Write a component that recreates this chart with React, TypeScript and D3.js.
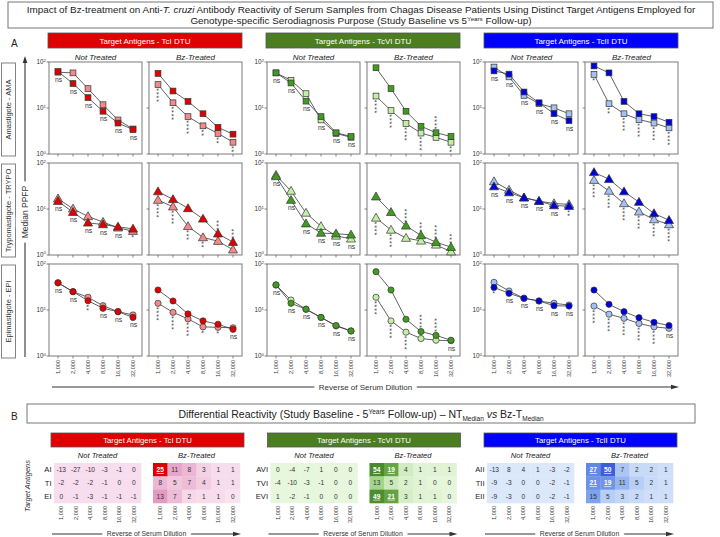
import React from "react";
import * as d3 from "d3";

const dilutions = ["1,000", "2,000", "4,000", "8,000", "16,000", "32,000"];
const dtuLabels = ["TcI DTU", "TcVI DTU", "TcII DTU"];
const stageLabels = ["Amastigote - AMA", "Trypomastigote - TRYPO", "Epimastigote - EPI"];
const treatmentLabels = ["Not Treated", "Bz-Treated"];
const stageShapes = ["square", "triangle", "circle"];

// ---- Panel A data: base = study baseline (dark), fu = 5-years follow-up (light), sig = test label
const tcI_AMA_NT = { base: [62, 34, 16.8, 8.5, 4.7, 3.4], fu: [60, 58, 26.4, 11.8, 5.5, 3.5], sig: ["ns", "ns", "ns", "ns", "ns", "ns"] };
const tcI_AMA_BZ = { base: [56.5, 23.4, 13.9, 7.5, 3.8, 2.7], fu: [32.3, 13, 6.5, 4.1, 2.8, 1.8], sig: ["****", "****", "****", "**", "**", "**"] };
const tcI_TRYPO_NT = { base: [14.8, 8.5, 5.0, 4.6, 4.1, 3.7], fu: [16.8, 10.1, 6.9, 5.2, 3.9, 3.3], sig: ["ns", "ns", "ns", "ns", "ns", "*"] };
const tcI_TRYPO_BZ = { base: [23.9, 16.2, 10.3, 6.1, 2.9, 1.9], fu: [15.6, 11.2, 4.2, 2.4, 2.0, 1.3], sig: ["****", "****", "***", "**", "***", "***"] };
const tcI_EPI_NT = { base: [39, 25, 15.9, 10.9, 9.2, 6.9], fu: [39, 25, 18.9, 12.4, 9.2, 7.8], sig: ["ns", "ns", "**", "ns", "ns", "ns"] };
const tcI_EPI_BZ = { base: [27.2, 15.7, 8.2, 5.8, 4.9, 3.8], fu: [14, 8.9, 6.4, 4.3, 4.2, 4.1], sig: ["****", "****", "****", "*", "*", "ns"] };

const tcVI_AMA_NT = { base: [58, 35, 14.1, 6.5, 2.9, 2.4], fu: [58, 40, 20.5, 5.5, 2.8, 2.3], sig: ["ns", "ns", "ns", "ns", "ns", "ns"] };
const tcVI_AMA_BZ = { base: [75, 26.4, 8.5, 4.0, 2.9, 2.4], fu: [18.2, 8.8, 4.6, 2.85, 2.3, 1.8], sig: ["****", "****", "****", "****", "****", "**"] };
const tcVI_TRYPO_NT = { base: [51, 15.6, 4.8, 3.0, 2.9, 2.75], fu: [54.5, 24.6, 8.2, 4.2, 2.6, 2.25], sig: ["ns", "ns", "ns", "ns", "ns", "ns"] };
const tcVI_TRYPO_BZ = { base: [18.5, 8.5, 4.3, 2.66, 1.9, 1.48], fu: [6.4, 3.5, 2.33, 2.03, 1.66, 1.18], sig: ["****", "****", "****", "***", "****", "***"] };
const tcVI_EPI_NT = { base: [35, 14, 10.4, 6.9, 4.6, 3.5], fu: [35, 16.5, 10.4, 6.9, 4.5, 3.5], sig: ["ns", "ns", "ns", "ns", "ns", "ns"] };
const tcVI_EPI_BZ = { base: [68, 27.2, 6.3, 3.4, 2.8, 2.2], fu: [18.9, 5.8, 3.3, 2.4, 2.2, 2.15], sig: ["****", "****", "****", "****", "****", "ns"] };

const tcII_AMA_NT = { base: [64, 54.5, 22.3, 13, 7.5, 5.3], fu: [77.6, 47.5, 18.8, 12.4, 10.1, 7.5], sig: ["ns", "ns", "ns", "ns", "ns", "ns"] };
const tcII_AMA_BZ = { base: [82, 58, 13.9, 7.5, 6.5, 4.9], fu: [53.7, 12.4, 7.5, 5.6, 4.7, 3.7], sig: ["*", "**", "****", "****", "****", "****"] };
const tcII_TRYPO_NT = { base: [30.7, 22.7, 17.6, 14.8, 11.9, 11.5], fu: [39.6, 25.9, 17.6, 14.8, 13.2, 12.6], sig: ["ns", "ns", "ns", "ns", "ns", "**"] };
const tcII_TRYPO_BZ = { base: [62.5, 44.5, 23.9, 14.1, 8.0, 5.7], fu: [42.3, 24.6, 13.2, 8.7, 5.9, 4.6], sig: ["****", "****", "****", "****", "****", "****"] };
const tcII_EPI_NT = { base: [31, 23, 18, 15.7, 12.4, 12.2], fu: [40, 25.9, 18, 15.7, 14, 12.8], sig: ["*", "ns", "ns", "ns", "ns", "ns"] };
const tcII_EPI_BZ = { base: [27.2, 13.3, 9.2, 6.8, 5.4, 4.6], fu: [12.2, 8.1, 6.6, 5.1, 4.3, 4.0], sig: ["****", "****", "****", "****", "****", "ns"] };

// ---- Panel B data (differential reactivity)
const hmRows_TcI = ["AI", "TI", "EI"];
const hm_TcI_NT = [[-13, -27, -10, -3, -1, 0], [-2, -2, -2, -1, 0, 0], [0, -1, -3, -1, -1, -1]];
const hm_TcI_BZ = [[25, 11, 8, 3, 1, 1], [8, 5, 7, 4, 1, 1], [13, 7, 2, 1, 1, 0]];
const hmRows_TcVI = ["AVI", "TVI", "EVI"];
const hm_TcVI_NT = [[0, -4, -7, 1, 0, 0], [-4, -10, -3, -1, 0, 0], [1, -2, -1, 0, 0, 0]];
const hm_TcVI_BZ = [[54, 19, 4, 1, 1, 1], [13, 5, 2, 1, 0, 0], [49, 21, 3, 1, 1, 0]];
const hmRows_TcII = ["AII", "TII", "EII"];
const hm_TcII_NT = [[-13, 8, 4, 1, -3, -2], [-9, -3, 0, 0, -2, -1], [-9, -3, 0, 0, -2, -1]];
const hm_TcII_BZ = [[27, 50, 7, 2, 2, 1], [21, 19, 11, 5, 2, 1], [15, 5, 3, 2, 1, 1]];

const panelGrid = [
  [[tcI_AMA_NT, tcI_AMA_BZ], [tcI_TRYPO_NT, tcI_TRYPO_BZ], [tcI_EPI_NT, tcI_EPI_BZ]],
  [[tcVI_AMA_NT, tcVI_AMA_BZ], [tcVI_TRYPO_NT, tcVI_TRYPO_BZ], [tcVI_EPI_NT, tcVI_EPI_BZ]],
  [[tcII_AMA_NT, tcII_AMA_BZ], [tcII_TRYPO_NT, tcII_TRYPO_BZ], [tcII_EPI_NT, tcII_EPI_BZ]],
];
const hmGrid = [
  { rows: hmRows_TcI, nt: hm_TcI_NT, bz: hm_TcI_BZ },
  { rows: hmRows_TcVI, nt: hm_TcVI_NT, bz: hm_TcVI_BZ },
  { rows: hmRows_TcII, nt: hm_TcII_NT, bz: hm_TcII_BZ },
];

// ---- styles
const FONT = "'Liberation Sans', Arial, Helvetica, sans-serif";
const dtuStyle = [
  { bar: "#e00000", dark: "#e00000", light: "#f38a8a", nt: "#f8ddef", lo: "#f9e3f0", hi: "#e39bc2", sLo: "#dd0000", sHi: "#dd0000", loMax: 13 },
  { bar: "#4b7e21", dark: "#3f9d1d", light: "#c4eea7", nt: "#e7f7dd", lo: "#e5f6da", hi: "#a3d58a", sLo: "#64a544", sHi: "#4a8a2e", loMax: 13 },
  { bar: "#0000ff", dark: "#0000d8", light: "#a4c1f2", nt: "#dbe8fb", lo: "#d5e3fb", hi: "#7ea3ee", sLo: "#6f95ea", sHi: "#3557d6", loMax: 15 },
];
const GX = [49, 267, 485];
const PW = 93;
const ROW_TOP = [62, 163, 264];
const PH = 92;
const HG = [54, 270.5, 487];
const HW = 87;
const HY = 463;
const HH = 40;

function Marker({ shape, x, y, fill }: any) {
  if (shape === "square")
    return <rect x={x - 2.9} y={y - 2.9} width={5.8} height={5.8} fill={fill} stroke="#333" strokeWidth={0.7} />;
  if (shape === "triangle")
    return <path d={d3.symbol(d3.symbolTriangle, 36)() as string} transform={`translate(${x},${y + 0.6})`} fill={fill} stroke="#333" strokeWidth={0.7} />;
  return <circle cx={x} cy={y} r={3.1} fill={fill} stroke="#333" strokeWidth={0.7} />;
}

function Panel({ data, shape, st, x0, row, isNT }: any) {
  const top = ROW_TOP[row];
  const bottom = top + PH;
  const xs = d3.scalePoint<string>().domain(dilutions).range([x0 + 9, x0 + PW - 9]);
  const ys = d3.scaleLog().domain([1, 100]).range([bottom, top]);
  const line = d3.line<number>().x((_, i) => xs(dilutions[i]) as number).y((v) => ys(v));
  const ticks = [1, 10, 100];
  const ann = data.sig.map((s: string, i: number) => {
    const x = xs(dilutions[i]) as number;
    const a = ys(data.base[i]);
    const b = ys(data.fu[i]);
    const lo = Math.max(a, b);
    const hi = Math.min(a, b);
    if (s === "ns") {
      let y = lo + 10;
      if (y > bottom - 1) y = hi - 4;
      return <text key={"a" + i} x={x + 0.5} y={y} fontSize={6.8} textAnchor="middle" fill="#333">ns</text>;
    }
    const n = s.length;
    const step = 3.6;
    let first = lo + 5;
    let last = first + (n - 1) * step;
    if (last + 3 > bottom) {
      last = hi - 5;
      first = last - (n - 1) * step;
    }
    // vertical column of asterisks drawn as one rotated text
    return (
      <text key={"a" + i} transform={`translate(${x - 4},${first - 1.3}) rotate(90)`} fontSize={7} letterSpacing={0.9} fill="#333">
        {s}
      </text>
    );
  });
  return (
    <g>
      <rect x={x0} y={top} width={PW} height={PH} fill="white" stroke="#7a7a7a" strokeWidth={1} />
      {ticks.map((t) => (
        <line key={t} x1={x0 - 2.5} x2={x0} y1={ys(t)} y2={ys(t)} stroke="#555" strokeWidth={0.7} />
      ))}
      {isNT &&
        ticks.map((t, i) => (
          <text key={"l" + t} x={x0 - 3} y={ys(t) + 2.3} fontSize={6.3} textAnchor="end" fill="#333">
            10<tspan dy={-2.8} fontSize={4.3}>{i}</tspan>
          </text>
        ))}
      {dilutions.map((d) => (
        <g key={d}>
          <line x1={xs(d)} x2={xs(d)} y1={bottom} y2={bottom + 2.5} stroke="#555" strokeWidth={0.7} />
          {row === 2 && (
            <text transform={`translate(${(xs(d) as number) + 2},${bottom + 4}) rotate(-90)`} fontSize={5.6} textAnchor="end" fill="#333">
              {d}
            </text>
          )}
        </g>
      ))}
      <path d={line(data.fu) as string} fill="none" stroke="#3a3a3a" strokeWidth={0.8} />
      <path d={line(data.base) as string} fill="none" stroke="#3a3a3a" strokeWidth={0.8} />
      {data.fu.map((v: number, i: number) => (
        <Marker key={"f" + i} shape={shape} x={xs(dilutions[i])} y={ys(v)} fill={st.light} />
      ))}
      {data.base.map((v: number, i: number) => (
        <Marker key={"b" + i} shape={shape} x={xs(dilutions[i])} y={ys(v)} fill={st.dark} />
      ))}
      {ann}
    </g>
  );
}

function Heat({ values, x0, st, isNT }: any) {
  const xb = d3.scaleBand<string>().domain(dilutions).range([x0, x0 + HW]);
  const yb = d3.scaleBand<number>().domain([0, 1, 2]).range([HY, HY + HH]);
  const fillOf = (v: number) => {
    if (isNT) return st.nt;
    if (v >= 19) return d3.interpolateRgb(st.sLo, st.sHi)(Math.min(1, (v - 19) / 35));
    return d3.interpolateRgb(st.lo, st.hi)(Math.max(0, Math.min(1, v / st.loMax)));
  };
  return (
    <g>
      {values.map((row: number[], r: number) =>
        row.map((v, c) => {
          const x = xb(dilutions[c]) as number;
          const y = yb(r) as number;
          const sig = !isNT && v >= 19;
          return (
            <g key={r + "-" + c}>
              <rect x={x} y={y} width={xb.bandwidth() + 0.3} height={yb.bandwidth() + 0.3} fill={fillOf(v)} />
              <text x={x + xb.bandwidth() / 2} y={y + yb.bandwidth() / 2 + 2.4} fontSize={6.6} textAnchor="middle" fill={sig ? "#ffffff" : "#333"} textDecoration={sig ? "underline" : undefined} fontWeight={sig ? "bold" : undefined}>
                {v}
              </text>
            </g>
          );
        })
      )}
      {dilutions.map((d) => (
        <text key={d} transform={`translate(${(xb(d) as number) + xb.bandwidth() / 2 + 2},${HY + HH + 3}) rotate(-90)`} fontSize={5.6} textAnchor="end" fill="#333">
          {d}
        </text>
      ))}
    </g>
  );
}

function Arrow({ x1, x2, y, label, fs, w }: any) {
  return (
    <g>
      <line x1={x1} x2={x2 - 5} y1={y} y2={y} stroke="#333" strokeWidth={w} />
      <path d={`M${x2},${y} L${x2 - 8},${y - 2.3} L${x2 - 8},${y + 2.3} Z`} fill="#333" />
      <text x={(x1 + x2) / 2} y={y + fs * 0.35} fontSize={fs} textAnchor="middle" fill="#333" stroke="white" strokeWidth={10} paintOrder="stroke" strokeLinejoin="round">
        {label}
      </text>
    </g>
  );
}

export default function App() {
  return (
    <svg width={720} height={537} style={{ position: "absolute", left: 0, top: 0, background: "white", fontFamily: FONT, whiteSpace: "pre" }}>
      {/* Title */}
      <rect x={8} y={2} width={705} height={26} fill="white" stroke="#777" strokeWidth={1} />
      <text x={361} y={12.5} fontSize={9.9} textAnchor="middle" fill="#222">
        Impact of Bz-treatment on Anti-<tspan fontStyle="italic">T. cruzi</tspan> Antibody Reactivity of Serum Samples from Chagas Disease Patients Using Distinct Target Antigens Employed for
      </text>
      <text x={361} y={24.2} fontSize={9.9} textAnchor="middle" fill="#222">
        Genotype-specific Serodiagnosis Purpose (Study Baseline vs 5<tspan dy={-3.5} fontSize={6.2}>Years</tspan><tspan dy={3.5}> Follow-up)</tspan>
      </text>

      {/* Panel A */}
      <text x={11} y={47} fontSize={10} fill="#222">A</text>
      {dtuLabels.map((lab, d) => (
        <g key={lab}>
          <rect x={GX[d] - 1} y={33} width={PW * 2 + 8} height={15} fill={dtuStyle[d].bar} stroke="#555" strokeWidth={0.8} />
          <text x={GX[d] + PW + 3} y={43.5} fontSize={8} textAnchor="middle" fill="white">{"Target Antigens  - " + lab}</text>
          {treatmentLabels.map((t, k) => (
            <text key={t} x={GX[d] + k * (PW + 7) + PW / 2} y={59.5} fontSize={8} fontStyle="italic" textAnchor="middle" fill="#222">{t}</text>
          ))}
          {stageLabels.map((s, r) =>
            [0, 1].map((k) => (
              <Panel key={s + k} data={panelGrid[d][r][k]} shape={stageShapes[r]} st={dtuStyle[d]} x0={GX[d] + k * (PW + 7)} row={r} isNT={k === 0} />
            ))
          )}
        </g>
      ))}
      {stageLabels.map((s, r) => (
        <g key={s}>
          <rect x={1.5} y={ROW_TOP[r] + 1} width={14} height={PH + 1} fill="white" stroke="#777" strokeWidth={0.9} />
          <text transform={`translate(${11.3},${ROW_TOP[r] + PH / 2 + 1.5}) rotate(-90)`} fontSize={7.5} textAnchor="middle" fill="#333">{s}</text>
        </g>
      ))}
      {/* Y axis arrow */}
      <line x1={25} x2={25} y1={357} y2={62} stroke="#333" strokeWidth={1.1} />
      <path d="M25,56 L22.7,63 L27.3,63 Z" fill="#333" />
      <text transform="translate(28,212) rotate(-90)" fontSize={8.5} textAnchor="middle" fill="#333" stroke="white" strokeWidth={10} paintOrder="stroke">Median PPFP</text>
      <Arrow x1={52} x2={679} y={387} label="Reverse of Serum Dilution" fs={8} w={1.1} />

      {/* Panel B */}
      <text x={11} y={420} fontSize={10} fill="#222">B</text>
      <rect x={27} y={404} width={668} height={19} fill="white" stroke="#777" strokeWidth={1} />
      <text x={361} y={417.5} fontSize={10.5} textAnchor="middle" fill="#222">
        Differential Reactivity  (Study Baseline - 5<tspan dy={-4} fontSize={6.5}>Years</tspan>
        <tspan dy={4}> Follow-up) – NT</tspan>
        <tspan dy={3} fontSize={6.5}>Median</tspan>
        <tspan dy={-3} fontStyle="italic"> vs </tspan>
        <tspan>Bz-T</tspan>
        <tspan dy={3} fontSize={6.5}>Median</tspan>
      </text>
      <text transform="translate(30,486) rotate(-90)" fontSize={7.5} fontStyle="italic" textAnchor="middle" fill="#333">Target Antigens</text>
      {dtuLabels.map((lab, d) => {
        const g = HG[d];
        const hm = hmGrid[d];
        return (
          <g key={"h" + lab}>
            <rect x={g - 3} y={433} width={193} height={14} fill={dtuStyle[d].bar} stroke="#555" strokeWidth={0.8} />
            <text x={g + 93.5} y={443} fontSize={7.8} textAnchor="middle" fill="white">{"Target Antigens  - " + lab}</text>
            {treatmentLabels.map((t, k) => (
              <text key={t} x={g + k * 99 + HW / 2} y={458} fontSize={7.6} fontStyle="italic" textAnchor="middle" fill="#222">{t}</text>
            ))}
            {hm.rows.map((rl: string, r: number) => (
              <text key={rl} x={g - 2.5} y={HY + (r + 0.5) * (HH / 3) + 2.8} fontSize={7.6} textAnchor="end" fill="#222">{rl}</text>
            ))}
            <Heat values={hm.nt} x0={g} st={dtuStyle[d]} isNT={true} />
            <Heat values={hm.bz} x0={g + 99} st={dtuStyle[d]} isNT={false} />
            <Arrow x1={g - 2} x2={g + 187} y={534} label="Reverse of Serum Dilution" fs={6.8} w={1.2} />
          </g>
        );
      })}
    </svg>
  );
}
